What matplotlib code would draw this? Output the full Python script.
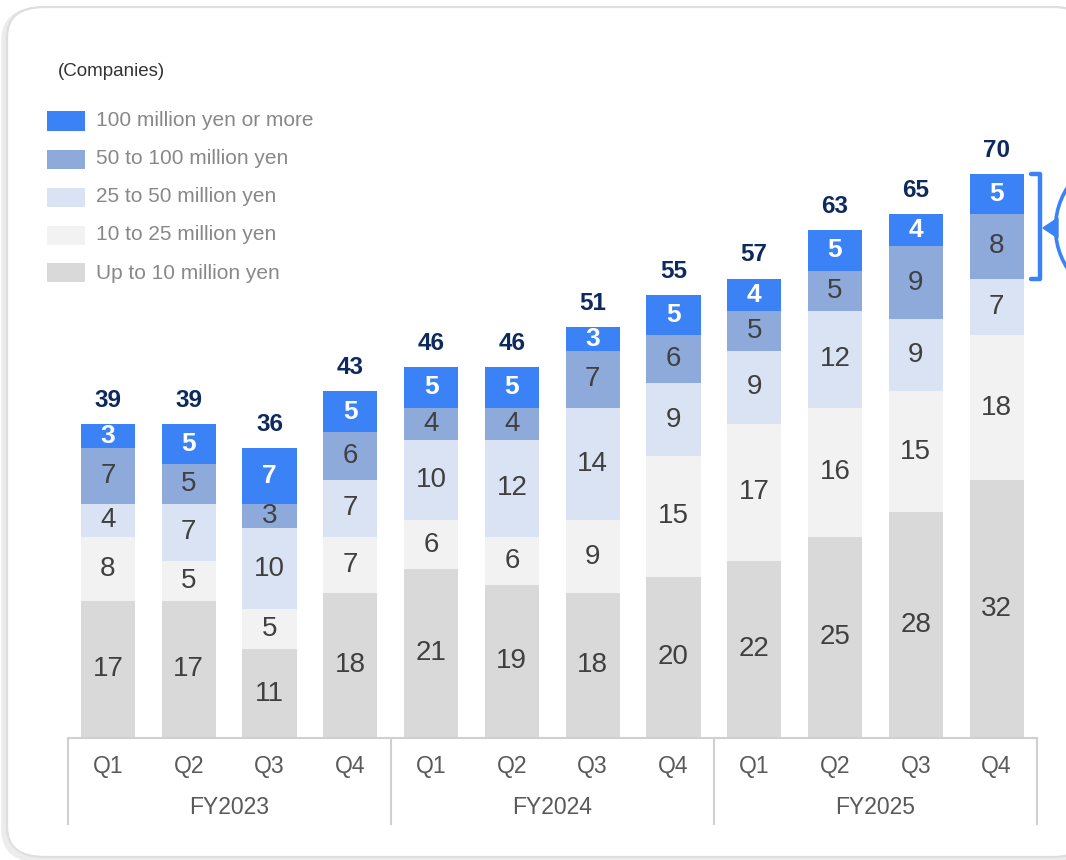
import matplotlib

matplotlib.use("Agg")
import matplotlib.pyplot as plt
from matplotlib.patches import Circle, FancyBboxPatch, Polygon, Rectangle
from matplotlib.lines import Line2D
import numpy as np

plt.rcParams["font.family"] = ["Liberation Sans", "DejaVu Sans"]

# 四半期ごとの社数（下から積み上げ）
quarters = ["Q1", "Q2", "Q3", "Q4"] * 3
fiscal_years = ["FY2023", "FY2024", "FY2025"]
series_names = [
    "Up to 10 million yen",
    "10 to 25 million yen",
    "25 to 50 million yen",
    "50 to 100 million yen",
    "100 million yen or more",
]
up_to_10 = [17, 17, 11, 18, 21, 19, 18, 20, 22, 25, 28, 32]
from_10_to_25 = [8, 5, 5, 7, 6, 6, 9, 15, 17, 16, 15, 18]
from_25_to_50 = [4, 7, 10, 7, 10, 12, 14, 9, 9, 12, 9, 7]
from_50_to_100 = [7, 5, 3, 6, 4, 4, 7, 6, 5, 5, 9, 8]
over_100 = [3, 5, 7, 5, 5, 5, 3, 5, 4, 5, 4, 5]
totals = [39, 39, 36, 43, 46, 46, 51, 55, 57, 63, 65, 70]

COLORS = ["#d9d9d9", "#f2f2f2", "#dae3f3", "#8eaadb", "#3b82f6"]
BLUE = "#3b82f6"
NAVY = "#0d2a5e"
DARK = "#404040"
GRID = "#d0d0d0"

W, H = 1066, 860
fig = plt.figure(figsize=(W / 100, H / 100), dpi=100)
fig.patch.set_facecolor("white")


def fx(x):
    return x / W


def fy(y):
    return 1 - y / H


# カード枠（影つき角丸）
for off, col, lw in ((3, "#ececec", 4), (0, "#dedede", 1.6)):
    fig.add_artist(FancyBboxPatch(
        (fx(7 - off), fy(857 + off)), fx(1090 - 7), fy(7) - fy(857),
        boxstyle="round,pad=0,rounding_size=0.035",
        transform=fig.transFigure, facecolor="white" if off == 0 else "none",
        edgecolor=col, linewidth=lw, zorder=0))

ax_left, ax_right = 67.5, 1037
base_y, unit_px, ymax = 738, 8.06, 79
ax = fig.add_axes([fx(ax_left), fy(base_y), fx(ax_right - ax_left),
                   ymax * unit_px / H])
ax.set_xlim(-0.5, 11.5)
ax.set_ylim(0, ymax)
ax.axis("off")

x = np.arange(len(totals))
bw = 0.67
stack = [up_to_10, from_10_to_25, from_25_to_50, from_50_to_100, over_100]
bottom = np.zeros(len(totals))
for i, vals in enumerate(stack):
    vals = np.array(vals)
    ax.bar(x, vals, bw, bottom=bottom, color=COLORS[i], linewidth=0)
    for xi, b, v in zip(x, bottom, vals):
        top = i == len(stack) - 1
        ax.text(xi, b + v / 2, str(v), ha="center", va="center",
                fontsize=20 if not top else 19,
                color="white" if top else DARK,
                fontweight="bold" if top else "normal")
    bottom += vals

for xi, t in zip(x, totals):
    ax.annotate(str(t), (xi, t), xytext=(0, 17), textcoords="offset points",
                ha="center", va="center", fontsize=17.5, fontweight="bold",
                color=NAVY)

# 軸下の区切り線と期ラベル
ax.add_line(Line2D([-0.5, 11.5], [0, 0], color=GRID, lw=1.5, clip_on=False))
for xs in (-0.5, 3.5, 7.5, 11.5):
    ax.add_line(Line2D([xs, xs], [0, -86 / unit_px], color=GRID, lw=1.5,
                       clip_on=False))
for xi, q in zip(x, quarters):
    ax.text(xi, -28 / unit_px, q, ha="center", va="center", fontsize=16.5,
            color="#595959")
for k, fyl in enumerate(fiscal_years):
    ax.text(k * 4 + 1.5, -70 / unit_px, fyl, ha="center", va="center",
            fontsize=16.5, color="#595959")

# 直近2区分を示す括弧
bx, tx = 11.54, 11.42
lo, hi = 57, 70
ax.add_line(Line2D([tx, bx, bx, tx], [hi, hi, lo, lo], color=BLUE, lw=3.2,
                   solid_capstyle="round", solid_joinstyle="round",
                   clip_on=False))
circ = Circle((1130 / 100, (H - 228) / 100), 0.745, transform=fig.dpi_scale_trans,
              facecolor="white", edgecolor=BLUE, linewidth=2.6)
fig.add_artist(circ)
fig.add_artist(Polygon([(fx(1043), fy(228)), (fx(1058), fy(218)),
                        (fx(1058), fy(238))], closed=True,
                       transform=fig.transFigure, facecolor=BLUE,
                       edgecolor=BLUE, linewidth=1))

# 凡例（上から高額順）
fig.text(fx(58), fy(71), "(Companies)", ha="left", va="center", fontsize=13.5,
         color="#333333")
for j, (name, col) in enumerate(zip(series_names[::-1], COLORS[::-1])):
    yc = 121 + j * 38
    fig.add_artist(Rectangle((fx(47), fy(yc + 9.5)), fx(38), 19 / H,
                             transform=fig.transFigure, facecolor=col,
                             edgecolor="none"))
    fig.text(fx(96), fy(yc), name, ha="left", va="center", fontsize=15,
             color="#888888")

fig.savefig("out.png", dpi=100, facecolor="white")
